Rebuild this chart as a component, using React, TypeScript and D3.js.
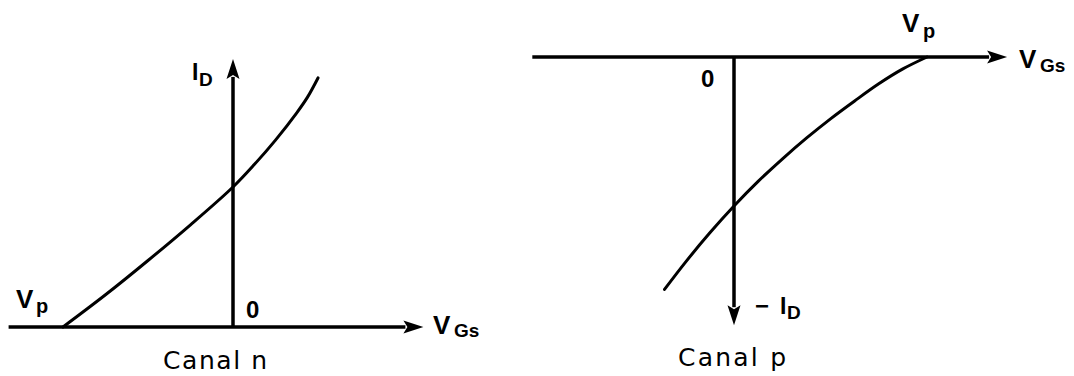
import React from "react";
import * as d3 from "d3";

// ---- Data ----
// n-channel transfer curve: V_GS (units of |Vp|/2) vs I_D (units of I_DSS)
const nChannelVgs = [-2.0, -1.5, -1.0, -0.5, 0, 0.25, 0.5, 0.75, 0.875, 1.0];
const nChannelId = [0, 0.23, 0.475, 0.73, 1.0, 1.16, 1.335, 1.53, 1.64, 1.779];
// p-channel transfer curve: V_GS vs -I_D
const pChannelVgs = [2.0, 1.75, 1.5, 1.25, 1.0, 0.75, 0.5, 0.25, 0, -0.25, -0.5, -0.72];
const pChannelMinusId = [0, 0.08, 0.18, 0.295, 0.415, 0.545, 0.685, 0.835, 1.0, 1.18, 1.375, 1.56];
// axis extents in data units
const nAxisVgs = [-2.64, 2.24];
const nAxisId = [0, 1.915];
const pAxisVgs = [-2.09, 2.83];
const pAxisMinusId = [0, 1.8];
const titles = ["Canal n", "Canal p"];

const W = 1074;
const H = 376;

export default function App() {
  // left panel scales
  const xn = d3.scaleLinear().domain([-2, 0]).range([63, 233]);
  const yn = d3.scaleLinear().domain([0, 1]).range([327, 187]);
  // right panel scales
  const xp = d3.scaleLinear().domain([0, 2]).range([734, 927]);
  const yp = d3.scaleLinear().domain([0, 1]).range([57, 206]);

  const nLine = d3
    .line<number>()
    .x((_, i) => xn(nChannelVgs[i]))
    .y((d) => yn(d))
    .curve(d3.curveCatmullRom.alpha(0.5));
  const pLine = d3
    .line<number>()
    .x((_, i) => xp(pChannelVgs[i]))
    .y((d) => yp(d))
    .curve(d3.curveCatmullRom.alpha(0.5));

  const L = 20; // arrow length
  const hw = 6.5; // arrow half width

  // left axes
  const nx0 = xn(nAxisVgs[0]);
  const nx1 = xn(nAxisVgs[1]);
  const ny0 = yn(0);
  const nyTop = yn(nAxisId[1]);
  const nAx = xn(0);
  // right axes
  const px0 = xp(pAxisVgs[0]);
  const px1 = xp(pAxisVgs[1]);
  const py0 = yp(0);
  const pyBot = yp(pAxisMinusId[1]);
  const pAx = xp(0);

  const ink = "#000";
  const lblFont = "'Liberation Sans', Arial, Helvetica, sans-serif";
  const titleFont = "'DejaVu Sans', Verdana, sans-serif";

  return (
    <svg
      width={W}
      height={H}
      viewBox={`0 0 ${W} ${H}`}
      style={{ position: "absolute", left: 0, top: 0, background: "#fff" }}
      fontFamily={lblFont}
    >
      <rect x={0} y={0} width={W} height={H} fill="#fff" />
      {/* ---- Left panel: Canal n ---- */}
      <line x1={nx0} y1={ny0} x2={nx1 - L + 2} y2={ny0} stroke={ink} strokeWidth={3.5} />
      <path d={`M${nx1},${ny0} L${nx1 - L},${ny0 - hw} L${nx1 - L + 4},${ny0} L${nx1 - L},${ny0 + hw} Z`} fill={ink} />
      <line x1={nAx} y1={ny0 + 1} x2={nAx} y2={nyTop + L - 2} stroke={ink} strokeWidth={3.5} />
      <path d={`M${nAx},${nyTop} L${nAx - hw},${nyTop + L} L${nAx},${nyTop + L - 4} L${nAx + hw},${nyTop + L} Z`} fill={ink} />
      <path d={nLine(nChannelId) || ""} fill="none" stroke={ink} strokeWidth={3} strokeLinecap="round" />

      <text x={192} y={80} fontSize={23} fontWeight="bold">I</text>
      <text x={199} y={86} fontSize={19} fontWeight="bold">D</text>
      <text x={16} y={308} fontSize={26} fontWeight="bold">V</text>
      <text x={36} y={313} fontSize={20} fontWeight="bold">p</text>
      <text x={246} y={318} fontSize={24} fontWeight="bold">0</text>
      <text x={433} y={334} fontSize={26} fontWeight="bold">V</text>
      <text x={454} y={337} fontSize={19} fontWeight="bold">Gs</text>
      <text x={163} y={369} fontFamily={titleFont} fontSize={25} textLength={104} lengthAdjust="spacing">{titles[0]}</text>

      {/* ---- Right panel: Canal p ---- */}
      <line x1={px0} y1={py0} x2={px1 - L + 2} y2={py0} stroke={ink} strokeWidth={3.5} />
      <path d={`M${px1},${py0} L${px1 - L},${py0 - hw} L${px1 - L + 4},${py0} L${px1 - L},${py0 + hw} Z`} fill={ink} />
      <line x1={pAx} y1={py0 - 1} x2={pAx} y2={pyBot - L + 2} stroke={ink} strokeWidth={3.5} />
      <path d={`M${pAx},${pyBot} L${pAx - hw},${pyBot - L} L${pAx},${pyBot - L + 4} L${pAx + hw},${pyBot - L} Z`} fill={ink} />
      <path d={pLine(pChannelMinusId) || ""} fill="none" stroke={ink} strokeWidth={3} strokeLinecap="round" />

      <text x={701} y={87} fontSize={24} fontWeight="bold">0</text>
      <text x={902} y={32} fontSize={26} fontWeight="bold">V</text>
      <text x={923} y={38} fontSize={20} fontWeight="bold">p</text>
      <text x={1019} y={68} fontSize={26} fontWeight="bold">V</text>
      <text x={1040} y={72} fontSize={19} fontWeight="bold">Gs</text>
      <text x={755} y={314} fontSize={24} fontWeight="bold">−</text>
      <text x={780} y={314} fontSize={23} fontWeight="bold">I</text>
      <text x={787} y={319} fontSize={19} fontWeight="bold">D</text>
      <text x={678} y={366} fontFamily={titleFont} fontSize={25} textLength={108} lengthAdjust="spacing">{titles[1]}</text>
    </svg>
  );
}
